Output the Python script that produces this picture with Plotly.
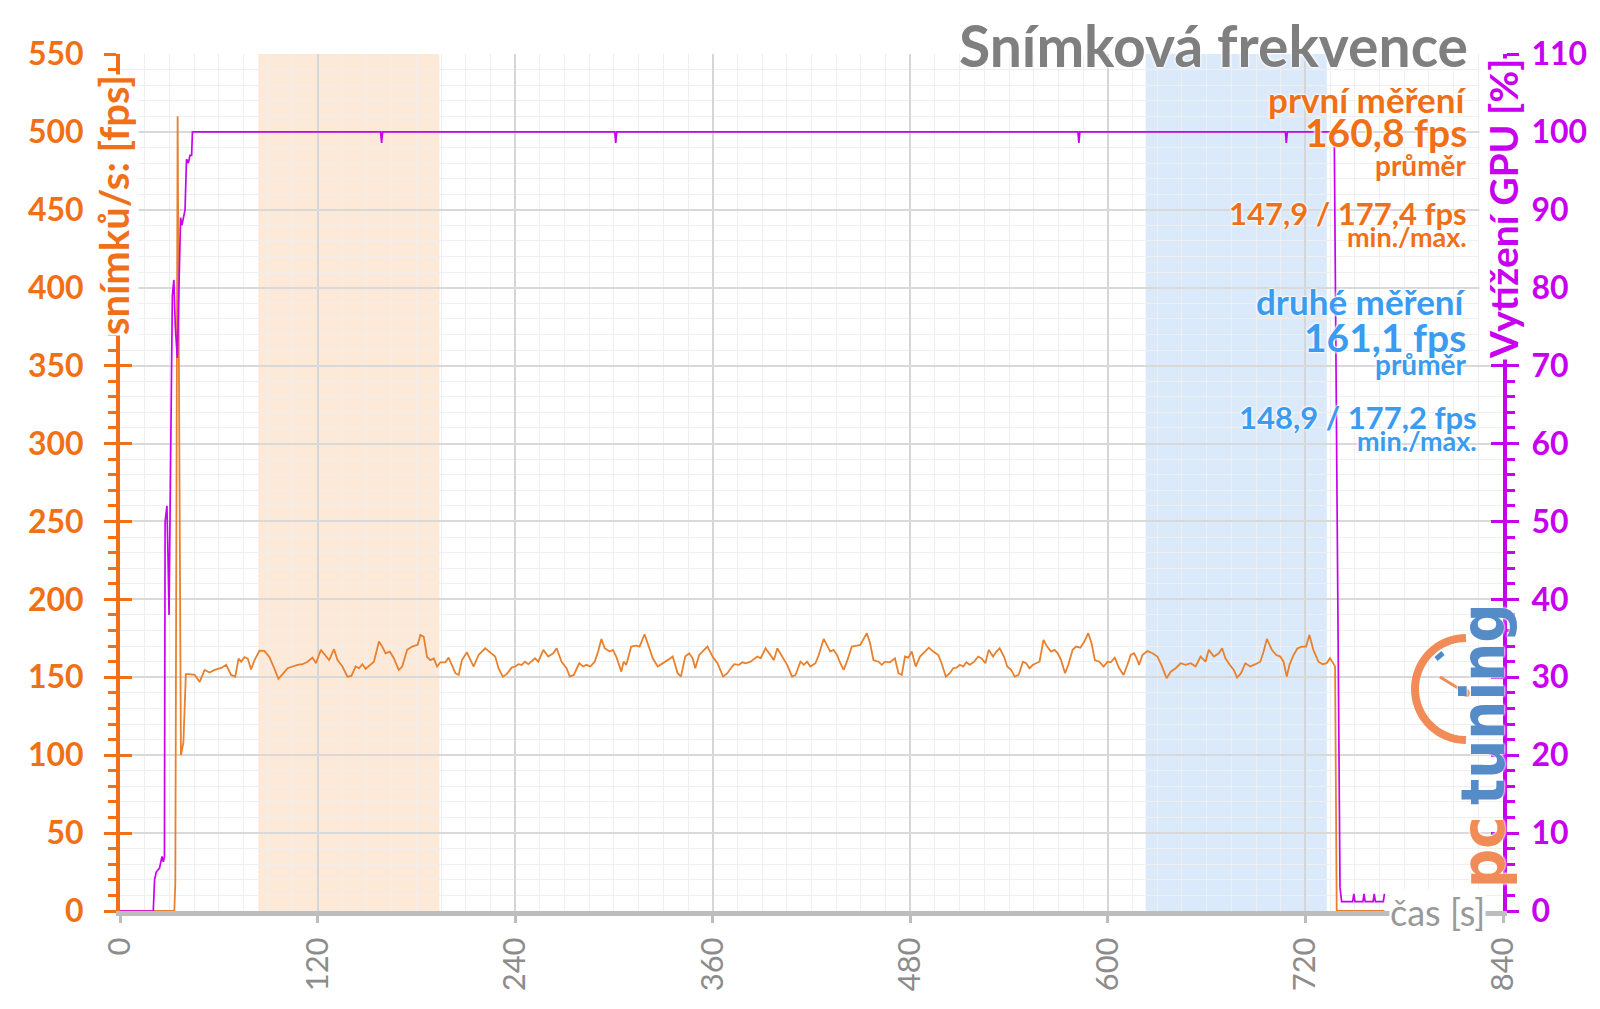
import math
import plotly.graph_objects as go

# ---------------- data ----------------
fps_time = [0, 33, 33.6, 35, 37, 38.5, 40,
    41.7, 45.4, 48.4, 51.4, 54.4, 57.5, 61.5, 64.5, 67.5, 70.0, 72.0, 73.6, 75.6, 77.6, 79.6, 81.7, 84.7, 87.7,
    90.7, 93.7, 96.2, 98.8, 101.8, 104.8, 107.9, 110.9, 113.9, 116.9, 119.0, 122.0, 125.0, 127.0, 130.0, 132.1,
    135.1, 138.1, 140.5, 143.1, 145.2, 147.2, 149.2, 152.2, 154.2, 157.3, 159.3, 161.3, 163.9, 166.3, 169.3,
    171.4, 174.4, 177.4, 180.8, 182.5,
    184.5, 186.5, 188.5, 190.6, 192.6, 194.6, 197.6, 199.6, 201.7, 203.7, 205.7, 207.7, 210.7, 212.7, 214.8,
    217.8, 221.8, 224.8, 227.9, 229.9, 232.5, 234.9, 237.9, 240.0, 242.0, 244.0, 246.0, 248.0, 250.0, 252.1,
    254.1, 257.1, 260.1, 263.1, 265.2, 268.2, 271.2, 273.2, 275.6, 278.9, 281.3, 283.3, 285.7, 288.3, 290.4,
    292.4, 294.4, 297.4, 299.4, 301.4, 304.5, 305.9, 307.5, 310.5, 313.5, 315.6, 318.6, 321.6, 323.6, 326.6,
    330.6, 332.6, 335.7, 338.7, 340.7, 343.3, 345.7, 347.8, 349.4, 351.8, 354.8, 356.8, 359.9, 362.9, 366.3,
    368.9, 371.0, 373.0, 376.0, 378.0, 380.0, 383.0, 387.1, 389.1, 392.1, 394.1, 397.2, 399.2, 402.2, 405.2,
    408.2, 410.3, 413.3, 415.3, 417.3, 419.3, 422.4, 424.4, 427.4, 429.4, 431.4, 433.4, 435.5, 437.5, 439.5,
    441.5, 444.5, 447.6, 449.6, 453.6, 455.6, 457.6, 460.7, 462.7, 464.7, 467.7, 470.7,
    472.8, 474.8, 476.8, 478.8, 480.9, 483.3, 485.9, 488.9, 491.3, 494.0, 497.0, 499.0, 501.6, 504.0, 506.1,
    508.1, 510.1, 512.1, 514.1, 516.1, 518.8, 521.2, 523.2, 525.6, 527.6, 530.3, 532.3, 534.3, 536.9, 538.9,
    541.3, 543.4, 545.8, 548.4, 550.4, 552.4, 554.5, 556.5, 558.5, 560.9, 563.1, 565.5, 567.6, 569.6, 571.6,
    574.0, 576.0, 578.6, 580.7, 583.3, 585.7, 588.1, 590.1, 592.1, 594.8, 597.4, 599.8, 601.8, 604.2, 606.9,
    609.5, 611.9, 613.9, 615.9, 617.5,
    619.0, 621.0, 624.0, 627.1, 630.1, 632.5, 635.7, 638.2, 641.2, 644.2, 647.2, 650.3, 653.3, 656.3, 659.3,
    661.3, 664.4, 667.4, 669.4, 671.4, 674.0, 676.5, 678.5, 680.9, 683.5, 686.5, 689.6, 692.6, 694.6, 696.6,
    699.6, 702.3, 704.7, 706.7, 708.7, 710.3, 712.8, 715.2, 717.8, 720.4, 722.4, 724.8, 727.9, 730.5, 732.9,
    734.9, 736.9, 738.0, 739.0, 768.0]

fps_values = [0, 0, 18, 510, 100, 108, 152,
    152, 151.5, 147, 154.7, 153, 154.7, 156, 158, 151.5, 150.4, 162, 160, 163, 162, 155, 161, 167, 166.9,
    163, 155.8, 149, 152, 155.8, 156.9, 158, 158.4, 160, 162.6, 159, 167.6, 163.9, 161, 168, 161,
    156.9, 150.4, 150.9, 156.9, 155.8, 158.4, 155.4, 158.4, 160, 172.9, 169.7, 165.4, 166.5, 162.2, 154.7,
    156.9, 167.6, 169.7, 170.8, 177.2,
    176, 163, 161, 162, 156.9, 159.6, 159.6, 162.6, 157.9, 152.6, 151.5, 161, 166, 161, 156.9,
    164.3, 168.6, 166, 163.3, 155.8, 150.4, 152, 156.2, 156.9, 158.4, 157.9, 160, 158.4, 160.5, 162.2,
    160, 167.6, 163.3, 165.4, 168.6, 160, 155.8, 150.4, 151.5, 159, 156.9, 158, 156.9, 160, 166.5,
    174.6, 168.6, 166.5, 167.6, 163.3, 153.6, 160, 158, 169.7, 170.3, 169.7, 177.6, 167.6, 162.2, 156.9,
    160, 161, 163.3, 152.6, 150.4, 163.3, 165.4, 162.2, 155.8, 164.3, 167.6, 169.7, 163.3, 159, 150.4,
    152.6, 155.8, 158.4, 158, 159.6, 159, 160, 163.3, 162.2, 168.6, 165.4, 161, 168.6, 163.3, 158,
    150.4, 151.5, 160, 158, 160, 156.9, 159, 164.3, 174.6, 170.8, 166.5, 167.6, 164.3, 159, 154.7,
    160, 169.7, 170.3, 170.8, 178.3, 171.8, 161, 160, 158, 160, 159.6, 162.2,
    152.6, 151.5, 163.3, 162.6, 166.5, 156.9, 163.3, 166.5, 169, 166.5, 164.3, 159, 150.4, 152.6, 155.8,
    156.2, 158, 156.9, 159.6, 158, 160, 163.3, 162.2, 159, 167.6, 163.3, 166.5, 168.6, 163.3, 156.9,
    154.7, 150.4, 151.5, 160, 159, 155.8, 158, 159, 160, 174, 169.7, 166.5, 167.6, 165.4, 161,
    152.6, 158, 167.6, 169.7, 169, 172.9, 178.3, 171.8, 161, 160, 156.9, 160, 159.6, 162.6, 155.8,
    151.5, 158, 164.3, 165.4, 162.2,
    158, 164.3, 166.9, 165.4, 163.3, 158, 149.4, 153.6, 155.8, 159, 158, 159, 156.9, 163.3, 160,
    167.6, 163.3, 165.4, 168.6, 162.2, 158, 154.7, 149.8, 152.6, 159, 156.9, 158.4, 160, 166.5, 174.6,
    167.6, 164.3, 163.3, 160, 150.4, 158, 164.3, 168.6, 169.7, 169.7, 177.2, 167.6, 160, 158.4, 159,
    162.2, 159, 157, 0, 0]

gpu_time = [0, 20.2, 21, 22, 24, 25.5, 26.3, 27, 27.4, 28.5, 29.2, 29.8, 30.6, 31.8, 32.7, 33.6, 34.8,
    35.8, 36.8, 37.6, 38.6, 39.5, 40.4, 41.5, 42.5, 43.5, 44,
    158.3, 158.9, 159.5, 300.5, 301.1, 301.7, 581.8, 582.4, 583.0, 707.8, 708.4, 709.0, 737.5,
    741.0, 742.0, 748.7, 749.4, 750.1, 754.9, 755.6, 756.3, 761.1, 761.8, 762.5, 767.3, 768.0]
gpu_values = [0, 0, 4, 5, 5.5, 7, 6.3, 7, 50, 52, 45, 38, 55, 79, 81, 75, 71,
    80, 89, 88, 89, 90, 96.5, 96, 97, 97, 100,
    100, 98.6, 100, 100, 98.6, 100, 100, 98.6, 100, 100, 98.6, 100, 100,
    3, 1.2, 1.2, 2.2, 1.2, 1.2, 2.2, 1.2, 1.2, 2.2, 1.2, 1.2, 2.2]

band_first = [84, 194]     # "první měření" interval [s]
band_second = [623, 733]   # "druhé měření" interval [s]

x_ticks = [0, 120, 240, 360, 480, 600, 720, 840]

title_text = "Snímková frekvence"
first_lines = ["první měření", "160,8 fps", "průměr", "147,9 / 177,4 fps", "min./max."]
second_lines = ["druhé měření", "161,1 fps", "průměr", "148,9 / 177,2 fps", "min./max."]

# ---------------- styling ----------------
W, H = 1600, 1009
L, R, T, B = 120, 1503, 54, 911
ORANGE = "#F07018"
FPS_LINE = "#E8802E"
MAGENTA = "#C800F0"
BLUE = "#3A9BF0"
GREY = "#8C8C8C"
FONT = "Lato"
GLOW = "0 0 3px white, 0 0 3px white, 0 0 2px white"


def px(x):
    return (x - L) / (R - L)


def py(y):
    return (B - y) / (B - T)


fig = go.Figure()
fig.add_trace(go.Scatter(x=fps_time, y=fps_values, mode="lines",
                         line=dict(color=FPS_LINE, width=1.8), yaxis="y", showlegend=False))
fig.add_trace(go.Scatter(x=gpu_time, y=gpu_values, mode="lines",
                         line=dict(color=MAGENTA, width=1.7), yaxis="y2", showlegend=False))
# empty helper traces so the tick-only overlay axes get drawn
fig.add_trace(go.Scatter(x=[None], y=[None], yaxis="y3", showlegend=False, hoverinfo="skip"))
fig.add_trace(go.Scatter(x=[None], y=[None], yaxis="y4", showlegend=False, hoverinfo="skip"))

shapes = [
    dict(type="rect", xref="x", yref="paper", x0=band_first[0], x1=band_first[1], y0=0, y1=1,
         fillcolor="#FDE9D8", line=dict(width=0), layer="below"),
    dict(type="rect", xref="x", yref="paper", x0=band_second[0], x1=band_second[1], y0=0, y1=1,
         fillcolor="#DAEAFB", line=dict(width=0), layer="below"),
]

# logo: gauge arc
cx, cy, rr = 1466, 689, 51
pts = []
for i in range(41):
    a = math.radians(90 + 180 * i / 40)
    pts.append((cx + rr * math.cos(a), cy - rr * math.sin(a)))
path = "M " + " L ".join(f"{px(x):.5f},{py(y):.5f}" for x, y in pts)
shapes.append(dict(type="path", xref="paper", yref="paper", path=path,
                   line=dict(color="rgba(240,128,70,0.9)", width=8), layer="above"))
shapes.append(dict(type="line", xref="paper", yref="paper", x0=px(1440), y0=py(677), x1=px(1466), y1=py(693),
                   line=dict(color="rgba(240,128,70,0.9)", width=3)))
shapes.append(dict(type="circle", xref="paper", yref="paper", x0=px(1462), y0=py(689), x1=px(1470), y1=py(697),
                   fillcolor="rgba(240,128,70,0.95)", line=dict(width=0)))
shapes.append(dict(type="line", xref="paper", yref="paper", x0=px(1436), y0=py(659), x1=px(1443), y1=py(653),
                   line=dict(color="rgba(60,125,195,0.9)", width=5)))

ann = []


def add_text(text, x, y, size, color, anchor="right", bold=True, angle=0, bg=None, family=FONT, opacity=1):
    d = dict(text=text, xref="paper", yref="paper", x=px(x), y=py(y), xanchor=anchor, yanchor="middle",
             showarrow=False, textangle=angle, opacity=opacity,
             font=dict(family=family, size=size, color=color, weight="bold" if bold else "normal", shadow=GLOW))
    if bg:
        d["bgcolor"] = bg
        d["borderpad"] = 0
    ann.append(d)


add_text(title_text, 1470, 45, 57, "#7F7F7F")

sizes = [35, 39, 28, 31, 27]
ys1 = [99, 132, 165, 213, 236]
ys2 = [301, 337, 364, 417, 440]
xs2 = [1468, 1468, 1469, 1479, 1479]
for t, s, y in zip(first_lines, sizes, ys1):
    add_text(t, 1469, y, s, ORANGE)
for t, s, y, x in zip(second_lines, sizes, ys2, xs2):
    add_text(t, x, y, s, BLUE)

# axis titles (white background hides the axis line behind them, as in the reference)
add_text("snímků/s: [fps]", 114, 205, 40, ORANGE, anchor="center", angle=-90, bg="white")
add_text("Vytížení GPU [%]", 1503, 209, 39, MAGENTA, anchor="center", angle=-90, bg="white")
add_text("čas [s]", 1437, 912, 36, "#999999", anchor="center", bold=False, bg="white")

# logo text
add_text("tuning", 1482, 704, 61, "rgba(55,120,190,0.85)", anchor="center", bold=True,
         angle=-90, family="DejaVu Sans Condensed")
add_text("pc", 1482, 852, 61, "rgba(240,128,70,0.9)", anchor="center", bold=True,
         angle=-90, family="DejaVu Sans Condensed")

fig.update_layout(
    width=W, height=H, template="none",
    margin=dict(l=L, r=W - R, t=T, b=H - B, pad=0, autoexpand=False),
    paper_bgcolor="white", plot_bgcolor="white",
    shapes=shapes, annotations=ann,
    xaxis=dict(range=[0, 840], tickvals=x_ticks, ticktext=[str(v) for v in x_ticks], tickangle=-90,
               showline=True, linecolor="#BDBDBD", linewidth=5, ticks="outside", ticklen=7,
               tickwidth=3, tickcolor="#BDBDBD", ticklabelstandoff=2,
               tickfont=dict(family=FONT, size=31, color=GREY),
               showgrid=True, gridcolor="#D6D6D6", gridwidth=2, zeroline=False,
               minor=dict(dtick=15, showgrid=True, gridcolor="#EFEFEF", gridwidth=1, ticks=""),
               automargin=False, layer="below traces"),
    yaxis=dict(range=[0, 550], dtick=50, tick0=0, showline=True, linecolor=ORANGE, linewidth=4,
               ticks="outside", ticklen=12, tickwidth=3, tickcolor=ORANGE, ticklabelstandoff=14,
               tickfont=dict(family=FONT, size=32, color=ORANGE, weight="bold"),
               showgrid=True, gridcolor="#D9D9D9", gridwidth=2, zeroline=False,
               minor=dict(dtick=10, showgrid=True, gridcolor="#EFEFEF", gridwidth=1,
                          ticks="outside", ticklen=8, tickwidth=3, tickcolor=ORANGE),
               automargin=False),
    yaxis2=dict(range=[0, 110], dtick=10, tick0=0, overlaying="y", side="right", anchor="x",
                showline=True, linecolor=MAGENTA, linewidth=4,
                ticks="outside", ticklen=12, tickwidth=3, tickcolor=MAGENTA, ticklabelstandoff=6,
                tickfont=dict(family=FONT, size=32, color=MAGENTA, weight="bold"),
                showgrid=False, zeroline=False,
                minor=dict(dtick=2, ticks="outside", ticklen=8, tickwidth=3, tickcolor=MAGENTA),
                automargin=False),
    # inner halves of the major ticks (they cross the axis lines in the reference)
    yaxis3=dict(range=[0, 550], dtick=50, tick0=0, overlaying="y", side="left", anchor="x",
                showline=False, ticks="inside", ticklen=12, tickwidth=3, tickcolor=ORANGE,
                showticklabels=False, showgrid=False, zeroline=False, automargin=False),
    yaxis4=dict(range=[0, 110], dtick=10, tick0=0, overlaying="y", side="right", anchor="x",
                showline=False, ticks="inside", ticklen=12, tickwidth=3, tickcolor=MAGENTA,
                showticklabels=False, showgrid=False, zeroline=False, automargin=False),
)

fig.write_html("out.html")
